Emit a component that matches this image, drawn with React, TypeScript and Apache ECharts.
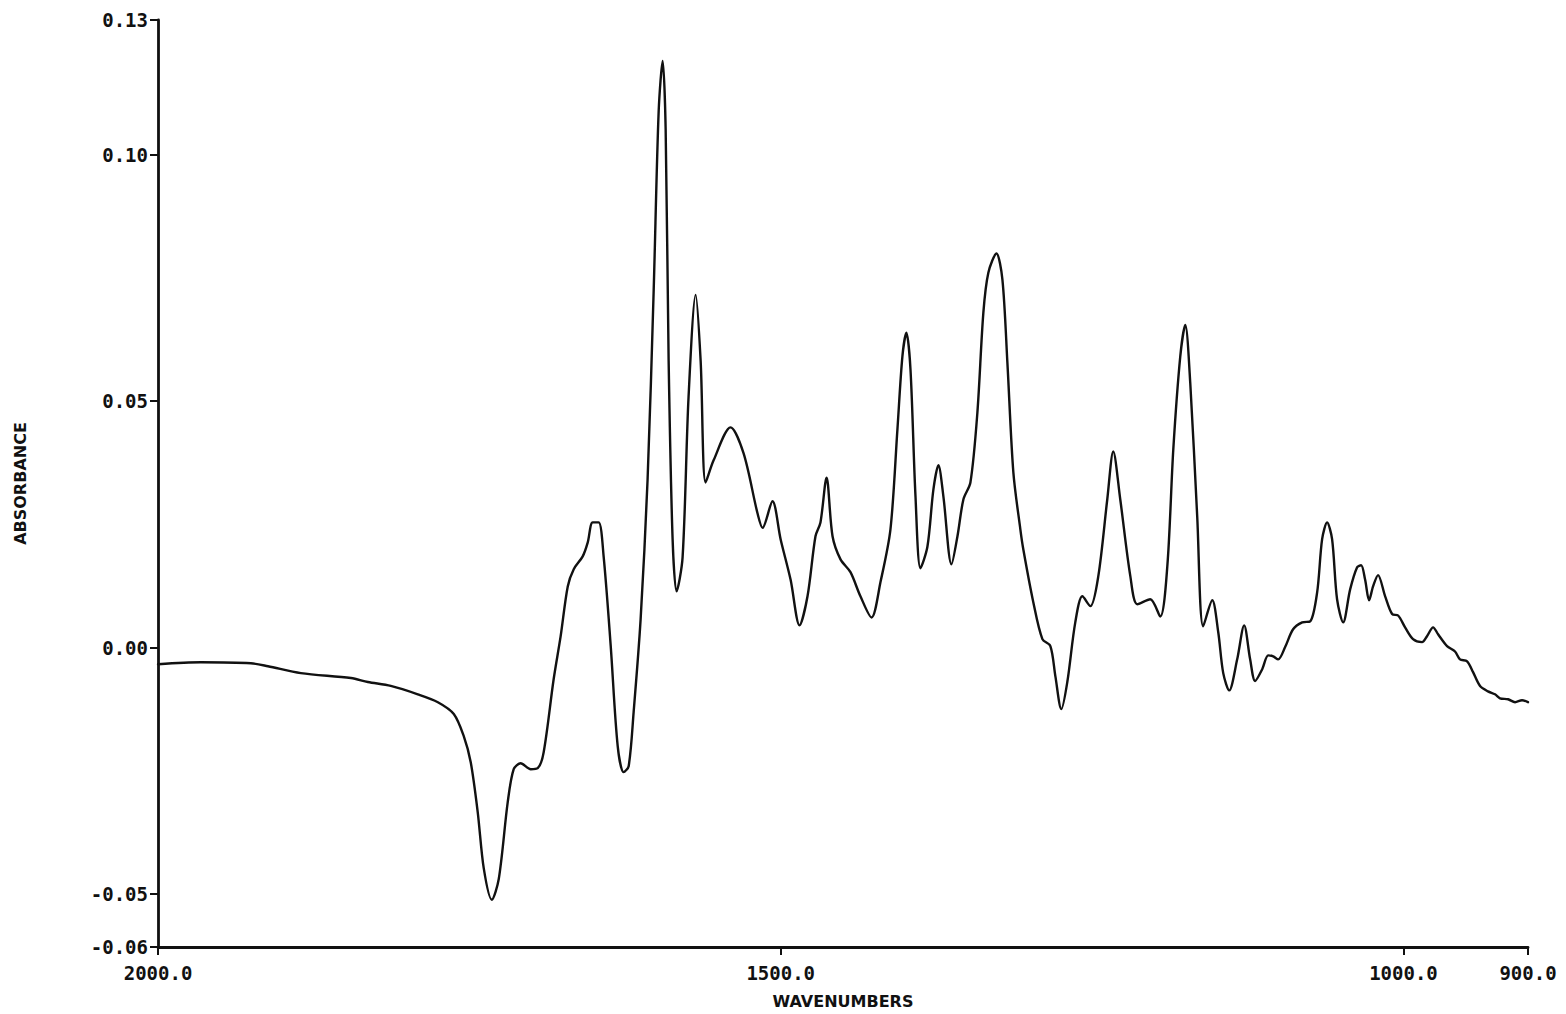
import React, { useEffect, useRef } from "react";
import * as echarts from "echarts";

const wavenumbers: number[] = [
  2000.0, 1965.5, 1925.4, 1911.7, 1885.3, 1845.1, 1831.5, 1813.1, 1791.4, 1775.3,
  1762.5, 1754.5, 1748.9, 1743.3, 1738.4, 1732.0, 1726.4, 1719.2, 1714.4, 1708.8,
  1700.7, 1695.1, 1690.3, 1682.3, 1676.7, 1671.0, 1666.2, 1659.0, 1655.0, 1651.0,
  1646.2, 1642.2, 1636.5, 1630.9, 1626.1, 1622.1, 1618.1, 1612.5, 1606.9, 1602.0,
  1598.0, 1594.8, 1592.4, 1590.0, 1586.8, 1583.6, 1578.8, 1574.0, 1568.3, 1564.3,
  1560.3, 1553.9, 1540.3, 1529.8, 1518.6, 1514.6, 1506.6, 1500.1, 1492.1, 1484.9,
  1478.5, 1472.1, 1468.1, 1463.2, 1458.4, 1452.0, 1444.0, 1436.0, 1427.1, 1419.9,
  1411.9, 1406.3, 1402.3, 1399.1, 1395.8, 1391.8, 1387.8, 1382.2, 1377.4, 1373.4,
  1369.4, 1362.9, 1358.1, 1353.3, 1347.7, 1342.1, 1337.3, 1333.3, 1326.8, 1322.0,
  1318.0, 1313.2, 1307.6, 1305.2, 1297.2, 1289.9, 1283.5, 1279.5, 1274.7, 1269.9,
  1263.5, 1257.8, 1251.4, 1245.0, 1237.8, 1233.0, 1227.4, 1219.3, 1213.7, 1203.3,
  1195.3, 1189.6, 1184.8, 1179.2, 1175.2, 1171.2, 1165.6, 1160.8, 1153.5, 1148.7,
  1144.7, 1139.9, 1133.5, 1127.9, 1123.1, 1119.1, 1113.4, 1108.6, 1104.6, 1100.6,
  1095.0, 1088.6, 1081.3, 1074.9, 1069.3, 1065.3, 1061.3, 1057.3, 1053.3, 1048.4,
  1042.8, 1037.2, 1034.0, 1030.8, 1027.6, 1024.4, 1020.4, 1014.7, 1009.1, 1004.3,
  998.7, 992.3, 985.1, 981.1, 976.2, 972.2, 965.0, 958.6, 954.6, 948.9,
  944.1, 938.5, 932.1, 926.5, 922.5, 916.0, 910.4, 904.8, 900.0,
];

// Absorbance at each wavenumber above
const absorbance: number[] = [
  -0.0034, -0.0030, -0.0032, -0.0038, -0.0052, -0.0062, -0.0070, -0.0078, -0.0095, -0.0111,
  -0.0135, -0.0180, -0.0233, -0.0334, -0.0449, -0.0512, -0.0470, -0.0314, -0.0247, -0.0235,
  -0.0247, -0.0245, -0.0212, -0.0064, 0.0023, 0.0124, 0.0159, 0.0185, 0.0213, 0.0254,
  0.0254, 0.0185, 0.0003, -0.0200, -0.0253, -0.0241, -0.0131, 0.0057, 0.0341, 0.0726,
  0.1089, 0.1191, 0.1053, 0.0582, 0.0219, 0.0114, 0.0183, 0.0509, 0.0716, 0.0582,
  0.0335, 0.0380, 0.0447, 0.0394, 0.0272, 0.0243, 0.0297, 0.0220, 0.0138, 0.0045,
  0.0104, 0.0226, 0.0254, 0.0345, 0.0226, 0.0179, 0.0153, 0.0104, 0.0061, 0.0133,
  0.0240, 0.0443, 0.0591, 0.0639, 0.0564, 0.0307, 0.0161, 0.0205, 0.0321, 0.0370,
  0.0307, 0.0169, 0.0226, 0.0301, 0.0335, 0.0477, 0.0680, 0.0761, 0.0800, 0.0747,
  0.0578, 0.0355, 0.0240, 0.0199, 0.0092, 0.0017, 0.0003, -0.0058, -0.0125, -0.0070,
  0.0051, 0.0104, 0.0084, 0.0145, 0.0301, 0.0398, 0.0301, 0.0145, 0.0088, 0.0098,
  0.0063, 0.0165, 0.0402, 0.0591, 0.0655, 0.0538, 0.0266, 0.0043, 0.0096, 0.0031,
  -0.0052, -0.0087, -0.0024, 0.0045, -0.0024, -0.0068, -0.0044, -0.0016, -0.0018, -0.0024,
  0.0001, 0.0037, 0.0051, 0.0053, 0.0112, 0.0220, 0.0254, 0.0220, 0.0098, 0.0051,
  0.0118, 0.0163, 0.0167, 0.0138, 0.0096, 0.0124, 0.0147, 0.0104, 0.0068, 0.0065,
  0.0041, 0.0017, 0.0011, 0.0023, 0.0041, 0.0027, 0.0003, -0.0008, -0.0024, -0.0028,
  -0.0050, -0.0078, -0.0089, -0.0095, -0.0103, -0.0105, -0.0111, -0.0107, -0.0111,
];

// Axis ticks as printed on the plot (the printed end ticks sit at the ends of the frame)
const xTickValues: number[] = [2000, 1500, 1000, 900];
const xTickLabels: string[] = ["2000.0", "1500.0", "1000.0", "900.0"];
const yMin = -0.0608;
const yMax = 0.1274;
const yTickValues: number[] = [yMin, -0.05, 0, 0.05, 0.1, yMax];
const yTickLabels: string[] = ["-0.06", "-0.05", "0.00", "0.05", "0.10", "0.13"];

const xName = "WAVENUMBERS";
const yName = "ABSORBANCE";

function lookup(values: number[], labels: string[], v: number): string {
  for (let i = 0; i < values.length; i++) {
    if (Math.abs(values[i] - v) < 1e-6) return labels[i];
  }
  return "";
}

export default function App() {
  const ref = useRef<HTMLDivElement | null>(null);

  useEffect(() => {
    document.body.style.margin = "0";
    if (!ref.current) return;
    const chart = echarts.init(ref.current, undefined, { renderer: "svg" });
    const tickFont = "'DejaVu Sans Mono', monospace";
    const nameFont = "'DejaVu Sans', sans-serif";
    const data = wavenumbers.map((w, i) => [w, absorbance[i]]);
    chart.setOption({
      animation: false,
      backgroundColor: "#ffffff",
      grid: { left: 158, right: 38, top: 20, bottom: 66 },
      xAxis: {
        type: "value",
        inverse: true,
        min: 900,
        max: 2000,
        name: xName,
        nameLocation: "middle",
        nameGap: 46,
        nameTextStyle: { fontFamily: nameFont, fontWeight: "bold", fontSize: 16, color: "#111" },
        axisLine: { show: true, onZero: false, lineStyle: { color: "#111", width: 2.8 } },
        axisTick: {
          show: true,
          inside: false,
          length: 8,
          customValues: xTickValues,
          lineStyle: { color: "#111", width: 2 },
        },
        axisLabel: {
          customValues: xTickValues,
          margin: 16,
          fontFamily: tickFont,
          fontWeight: "bold",
          fontSize: 19,
          color: "#111",
          formatter: (v: number) => lookup(xTickValues, xTickLabels, v),
        },
        splitLine: { show: false },
      },
      yAxis: {
        type: "value",
        min: yMin,
        max: yMax,
        name: yName,
        nameLocation: "middle",
        nameGap: 130,
        nameRotate: 90,
        nameTextStyle: { fontFamily: nameFont, fontWeight: "bold", fontSize: 16, color: "#111" },
        axisLine: { show: true, onZero: false, lineStyle: { color: "#111", width: 2.8 } },
        axisTick: {
          show: true,
          inside: false,
          length: 8,
          customValues: yTickValues,
          lineStyle: { color: "#111", width: 2 },
        },
        axisLabel: {
          customValues: yTickValues,
          margin: 10,
          fontFamily: tickFont,
          fontWeight: "bold",
          fontSize: 19,
          color: "#111",
          formatter: (v: number) => lookup(yTickValues, yTickLabels, v),
        },
        splitLine: { show: false },
      },
      series: [
        {
          type: "line",
          data,
          showSymbol: false,
          symbol: "none",
          smooth: 0.3,
          lineStyle: { color: "#111", width: 2.4, join: "round", cap: "round" },
        },
      ],
    });
    return () => chart.dispose();
  }, []);

  return (
    <div
      ref={ref}
      style={{ position: "fixed", left: 0, top: 0, width: 1566, height: 1014, background: "#fff" }}
    />
  );
}
